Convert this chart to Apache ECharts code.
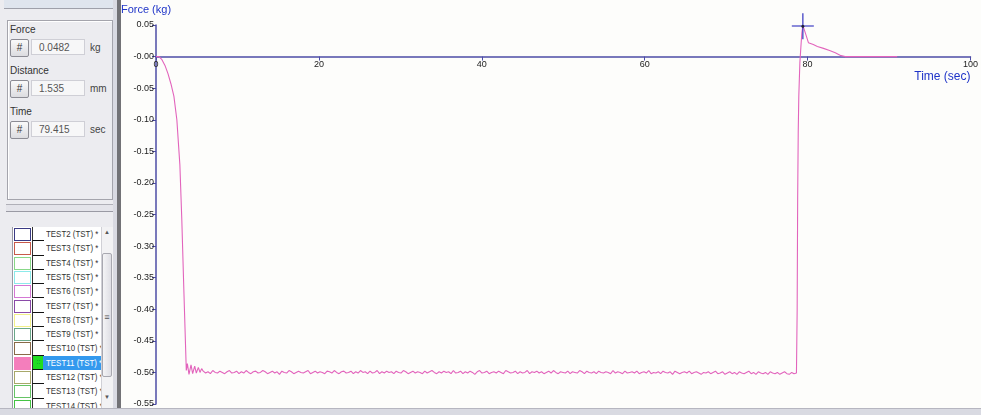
<!DOCTYPE html>
<html>
<head>
<meta charset="utf-8">
<script src="https://cdn.jsdelivr.net/npm/echarts@6/dist/echarts.min.js"></script>
<style>
  html, body { margin:0; padding:0; width:981px; height:415px; overflow:hidden; background:#fdfdfb;
    font-family:"Liberation Sans", Arial, sans-serif; }
  #chart { position:absolute; left:0; top:0; width:981px; height:415px; }
  #side { position:absolute; left:0; top:0; width:121px; height:415px; background:#ececf0; z-index:2; }
  .abs { position:absolute; }
  #topstrip { left:4px; top:0; width:109px; height:8px; background:#dfe5ee; border-bottom:1px solid #9ea0aa; }
  #group { left:7px; top:20px; width:104px; height:178px; border:1px solid #a4a4ac; box-shadow:inset 1px 1px 0 #fff; }
  .lbl { font-size:10px; color:#333; }
  .btn { width:17px; height:16px; border:1px solid #8c8c94; border-radius:2px; background:linear-gradient(#fafafa,#dcdce0);
    font-size:10px; color:#333; text-align:center; line-height:16px; }
  .box { width:54px; height:16px; border:1px solid #cfcfd6; background:#f7f7f8; font-size:10px; color:#555;
    line-height:16px; padding-left:7px; box-sizing:border-box; }
  .unit { font-size:10px; color:#444; }
  #splitter { left:6px; top:204px; width:107px; height:6px; background:#e4e4ea; border-top:1px solid #b0b0b8; border-bottom:1px solid #9a9aa4; }
  #list { left:12px; top:227px; width:101px; height:181px; background:#fff; overflow:hidden; border-left:1px solid #9a9aa4; }
  .row { position:absolute; left:0; width:89px; height:14.3px; }
  .sw { position:absolute; left:1px; top:1px; width:15px; height:11px; border:1px solid #888; background:#fff; }
  .c2 { position:absolute; left:19px; top:0; width:11px; height:13.3px; background:#fff; border-bottom:1px solid #111; border-left:1px solid #333; }
  .txt { position:absolute; left:30px; top:0; width:59px; height:14.3px; font-family:"Liberation Sans",Arial,sans-serif;
    font-size:9px; line-height:14.3px; color:#333; padding-left:3px; box-sizing:border-box; white-space:nowrap; overflow:hidden; }
  .txt span { display:inline-block; transform:scaleX(0.88); transform-origin:0 50%; }
  .sel { background:#3399ee; color:#fff; }
  #scroll { left:101px; top:227px; width:12px; height:181px; background:#f2f2f4; border-left:1px solid #d0d0d6; }
  #thumb { left:102px; top:253px; width:10px; height:124px; background:linear-gradient(90deg,#f4f4f6,#dedee4); border:1px solid #a8a8b0; border-radius:2px; box-sizing:border-box; }
  .arrow { font-size:6px; color:#555; width:12px; text-align:center; }
  #sepLight { left:113px; top:0; width:4px; height:415px; background:#d9dae2; }
  #sepDark { left:117px; top:0; width:4px; height:415px; background:#727276; }
  #bottomband { position:absolute; left:0; top:408px; width:981px; height:7px; background:#d9dae2; border-top:1px solid #b6b6c0; z-index:3; }
</style>
</head>
<body>
<div id="chart"></div>
<div id="side">
  <div id="topstrip" class="abs"></div>
  <div id="group" class="abs"></div>
  <div id="splitter" class="abs"></div>
  <div id="list" class="abs"></div>
  <div id="scroll" class="abs"></div>
  <div id="thumb" class="abs"></div>
  <div class="abs arrow" style="left:101px;top:229px;">&#9650;</div>
  <div class="abs arrow" style="left:101px;top:312px;font-size:9px;">&#8801;</div>
  <div class="abs arrow" style="left:101px;top:394px;">&#9660;</div>
  <div id="sepLight" class="abs"></div>
  <div id="sepDark" class="abs"></div>
</div>
<div id="bottomband"></div>
<script>
// Cursor readout at the peak of the rebound
const cursorForce = 0.0482;   // kg
const cursorDistance = 1.535; // mm
const cursorTime = 79.415;    // sec

// Test list shown beside the plot
const testNames = ['TEST2 (TST) *', 'TEST3 (TST) *', 'TEST4 (TST) *', 'TEST5 (TST) *', 'TEST6 (TST) *',
  'TEST7 (TST) *', 'TEST8 (TST) *', 'TEST9 (TST) *', 'TEST10 (TST) *', 'TEST11 (TST) *',
  'TEST12 (TST) *', 'TEST13 (TST) *', 'TEST14 (TST) *'];
const testColors = ['#3a3a84', '#c85a4a', '#88d888', '#8ceaea', '#d478d4', '#8a4aa8', '#f2f08a',
  '#6aa88a', '#8a6a48', '#f47ebc', '#a8a86a', '#66c466', '#44c444'];
const selectedTest = 'TEST11 (TST) *';

// Axis ranges
const timeMin = 0, timeMax = 100, timeStep = 20;
const forceMin = -0.55, forceMax = 0.05, forceStep = 0.05;

// Compression: descent from contact to the hold level (time s, force kg)
const rampTime = [0, 0.37, 0.73, 1.10, 1.47, 1.83, 2.20, 2.56, 2.93, 3.17, 3.42, 3.72, 3.85, 4.05,
  4.30, 4.50, 4.75, 4.95, 5.20, 5.40, 5.60];
const rampForce = [0, 0, -0.005, -0.014, -0.027, -0.043, -0.063, -0.100, -0.171, -0.259, -0.370,
  -0.497, -0.486, -0.503, -0.488, -0.502, -0.490, -0.501, -0.492, -0.500, -0.494];

// Hold at about -0.50 kg, sampled at a fixed step
const plateauStart = 5.8;
const plateauStep = 0.2925;
const plateauForce = [
  -0.498,-0.501,-0.499,-0.502,-0.497,-0.500,-0.501,-0.498,-0.500,-0.502,
  -0.499,-0.497,-0.501,-0.500,-0.498,-0.502,-0.499,-0.501,-0.497,-0.500,
  -0.502,-0.499,-0.498,-0.501,-0.500,-0.497,-0.499,-0.502,-0.500,-0.498,
  -0.501,-0.499,-0.503,-0.498,-0.500,-0.501,-0.497,-0.499,-0.502,-0.500,
  -0.498,-0.500,-0.501,-0.499,-0.497,-0.502,-0.500,-0.498,-0.501,-0.499,
  -0.500,-0.502,-0.498,-0.499,-0.501,-0.497,-0.500,-0.502,-0.499,-0.498,
  -0.501,-0.500,-0.498,-0.502,-0.499,-0.501,-0.497,-0.500,-0.499,-0.502,
  -0.498,-0.501,-0.500,-0.497,-0.502,-0.499,-0.501,-0.498,-0.500,-0.499,
  -0.502,-0.498,-0.500,-0.501,-0.497,-0.499,-0.502,-0.500,-0.498,-0.501,
  -0.499,-0.500,-0.502,-0.498,-0.501,-0.499,-0.497,-0.500,-0.502,-0.499,
  -0.501,-0.498,-0.500,-0.499,-0.502,-0.497,-0.501,-0.500,-0.498,-0.502,
  -0.499,-0.501,-0.498,-0.500,-0.503,-0.499,-0.497,-0.501,-0.500,-0.498,
  -0.502,-0.500,-0.499,-0.501,-0.498,-0.500,-0.502,-0.497,-0.499,-0.501,
  -0.500,-0.498,-0.502,-0.499,-0.501,-0.500,-0.497,-0.502,-0.499,-0.500,
  -0.498,-0.501,-0.499,-0.502,-0.500,-0.498,-0.501,-0.497,-0.500,-0.502,
  -0.499,-0.500,-0.501,-0.498,-0.502,-0.499,-0.500,-0.501,-0.497,-0.499,
  -0.502,-0.498,-0.500,-0.501,-0.499,-0.502,-0.498,-0.500,-0.501,-0.499,
  -0.500,-0.502,-0.497,-0.501,-0.499,-0.500,-0.502,-0.498,-0.501,-0.500,
  -0.499,-0.501,-0.498,-0.502,-0.500,-0.499,-0.501,-0.497,-0.502,-0.500,
  -0.501,-0.499,-0.502,-0.498,-0.500,-0.501,-0.499,-0.503,-0.498,-0.500,
  -0.502,-0.500,-0.499,-0.501,-0.498,-0.502,-0.500,-0.499,-0.501,-0.503,
  -0.500,-0.501,-0.499,-0.502,-0.500,-0.498,-0.502,-0.501,-0.499,-0.503,
  -0.501,-0.499,-0.502,-0.500,-0.503,-0.499,-0.501,-0.502,-0.500,-0.498,
  -0.502,-0.500,-0.503,-0.499,-0.501,-0.502,-0.500,-0.503,-0.499,-0.501,
  -0.502,-0.500,-0.503,-0.501,-0.499,-0.502,-0.503,-0.500,-0.502,-0.501
];

// Release: jump to the rebound peak, then decay back to zero
const reboundTime = [78.66, 78.72, 78.78, 78.85, 78.92, 79.05, 79.20, 79.30, 79.415, 79.55, 79.76,
  80.10, 80.70, 81.20, 81.95, 82.70, 83.40, 84.10, 84.60, 86.0, 88.0, 91.0];
const reboundForce = [-0.500, -0.400, -0.227, -0.120, -0.063, -0.010, 0.020, 0.038, 0.0482, 0.044,
  0.036, 0.022, 0.019, 0.016, 0.013, 0.0095, 0.006, 0.0015, 0.000, 0.000, 0.000, 0.000];

// ---- side panel ----
(function buildSide() {
  const side = document.getElementById('side');
  const fields = [
    { name: 'Force', value: cursorForce.toFixed(4), unit: 'kg', y: 24 },
    { name: 'Distance', value: cursorDistance.toFixed(3), unit: 'mm', y: 65 },
    { name: 'Time', value: cursorTime.toFixed(3), unit: 'sec', y: 106 }
  ];
  fields.forEach(f => {
    side.insertAdjacentHTML('beforeend',
      `<div class="abs lbl" style="left:10px;top:${f.y}px;">${f.name}</div>` +
      `<div class="abs btn" style="left:10px;top:${f.y + 15}px;">#</div>` +
      `<div class="abs box" style="left:31px;top:${f.y + 15}px;">${f.value}</div>` +
      `<div class="abs unit" style="left:90px;top:${f.y + 18}px;">${f.unit}</div>`);
  });
  const list = document.getElementById('list');
  testNames.forEach((n, i) => {
    const isSel = n === selectedTest;
    const swStyle = isSel ? `background:${testColors[i]};border-color:${testColors[i]};`
                          : `border-color:${testColors[i]};`;
    const c2Style = isSel ? 'background:#22dd22;color:#084;font-size:7px;line-height:12px;text-align:center;' : '';
    list.insertAdjacentHTML('beforeend',
      `<div class="row" style="top:${(i * 14.3).toFixed(1)}px;">` +
      `<div class="sw" style="${swStyle}"></div>` +
      `<div class="c2" style="${c2Style}">${isSel ? '::' : ''}</div>` +
      `<div class="txt${isSel ? ' sel' : ''}"><span>${n}</span></div></div>`);
  });
})();

// ---- chart ----
const curve = [];
rampTime.forEach((t, i) => curve.push([t, rampForce[i]]));
plateauForce.forEach((f, i) => curve.push([+(plateauStart + i * plateauStep).toFixed(4), f]));
reboundTime.forEach((t, i) => curve.push([t, reboundForce[i]]));

const gridTop = 25, gridBottom = 11, chartH = 415;
const plotH = chartH - gridTop - gridBottom;
// the time axis sits on the zero-force line, so shift it up from the grid bottom
const zeroOffset = -plotH * (0 - forceMin) / (forceMax - forceMin);

const axisBlue = '#4c4ca6';
const chart = echarts.init(document.getElementById('chart'), null, { renderer: 'canvas' });
chart.setOption({
  animation: false,
  backgroundColor: '#fdfdfb',
  grid: { left: 156, right: 6, top: gridTop, bottom: gridBottom },
  xAxis: {
    type: 'value', min: timeMin, max: timeMax, interval: timeStep,
    position: 'bottom', offset: zeroOffset,
    name: 'Time (sec)', nameLocation: 'end', nameGap: 0,
    nameTextStyle: { color: '#1f34c8', fontSize: 12, align: 'right', verticalAlign: 'top',
      padding: [14, 0, 0, 0], fontFamily: 'Liberation Sans' },
    axisLine: { onZero: false, lineStyle: { color: axisBlue, width: 1.5 } },
    axisTick: { show: true, length: 4, lineStyle: { color: axisBlue } },
    axisLabel: { color: '#222', fontSize: 9, margin: 3, fontFamily: 'Liberation Sans Narrow, Liberation Sans' },
    splitLine: { show: false }
  },
  yAxis: {
    type: 'value', min: forceMin, max: forceMax, interval: forceStep,
    name: 'Force (kg)', nameLocation: 'end', nameGap: 10,
    nameTextStyle: { color: '#1f34c8', fontSize: 11, align: 'center', padding: [0, 20, 0, 0],
      fontFamily: 'Liberation Sans' },
    axisLine: { lineStyle: { color: axisBlue, width: 1.5 } },
    axisTick: { show: true, length: 4, lineStyle: { color: axisBlue } },
    axisLabel: {
      color: '#222', fontSize: 9, margin: 2, fontFamily: 'Liberation Sans Narrow, Liberation Sans',
      formatter: v => (Math.abs(v) < 1e-9 ? '-0.00' : v.toFixed(2))
    },
    splitLine: { show: false }
  },
  series: [
    {
      type: 'line', data: curve, showSymbol: false, z: 3,
      lineStyle: { color: '#e264bc', width: 1.1 }
    },
    {
      // cross-hair cursor at the readout position
      type: 'scatter', z: 4,
      data: [[cursorTime, cursorForce]],
      symbol: 'path://M0,12H22V13.6H0Z M10.2,0H11.8V26H10.2Z',
      symbolSize: [22, 26],
      itemStyle: { color: '#4040c4' }
    },
    {
      type: 'scatter', z: 5,
      data: [[cursorTime, cursorForce]],
      symbol: 'circle', symbolSize: 3,
      itemStyle: { color: '#111' }
    }
  ]
});
</script>
</body>
</html>
